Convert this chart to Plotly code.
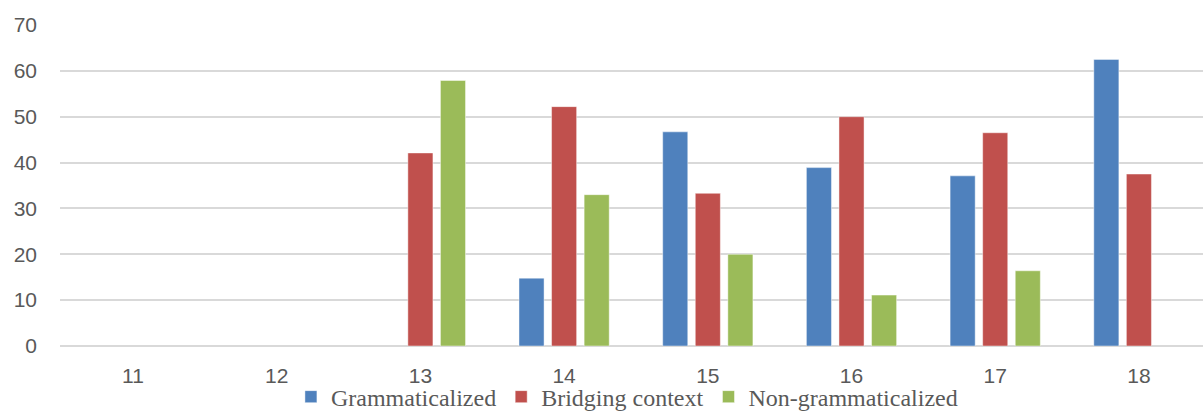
import plotly.graph_objects as go

# Categories along the x axis
categories = ["11", "12", "13", "14", "15", "16", "17", "18"]

# Share of each type per category (percent); None where there is no bar
grammaticalized = [None, None, None, 14.8, 46.7, 38.9, 37.1, 62.5]
bridging_context = [None, None, 42.1, 52.2, 33.3, 50.0, 46.5, 37.5]
non_grammaticalized = [None, None, 57.9, 33.0, 20.0, 11.1, 16.4, None]

series = [
    ("Grammaticalized", grammaticalized, "#4F81BD"),
    ("Bridging context", bridging_context, "#C0504D"),
    ("Non-grammaticalized", non_grammaticalized, "#9BBB59"),
]

fig = go.Figure()
for name, values, color in series:
    fig.add_trace(go.Bar(
        x=categories,
        y=values,
        name=name,
        marker=dict(color=color, line=dict(color="rgba(255,255,255,0.45)", width=1)),
    ))

tick_font = dict(family="Liberation Sans, Arial, sans-serif", size=21, color="#595959")

fig.update_layout(
    width=1203,
    height=413,
    margin=dict(l=60, r=0, t=25, b=67, autoexpand=False),
    paper_bgcolor="white",
    plot_bgcolor="white",
    barmode="group",
    bargap=0.32,
    bargroupgap=0.23,
    showlegend=True,
    legend=dict(
        orientation="h",
        x=0.496,
        xanchor="center",
        y=-0.159,
        yanchor="middle",
        font=dict(family="Liberation Serif, Times New Roman, serif", size=24, color="#595959"),
        bgcolor="rgba(0,0,0,0)",
    ),
    xaxis=dict(
        type="category",
        range=[-0.508, 7.446],
        showgrid=False,
        showline=False,
        zeroline=False,
        ticks="",
        tickfont=tick_font,
        ticklabelstandoff=15,
        automargin=False,
    ),
    yaxis=dict(
        range=[0, 70],
        dtick=10,
        showgrid=True,
        gridcolor="#D9D9D9",
        gridwidth=1.5,
        zeroline=True,
        zerolinecolor="#D9D9D9",
        zerolinewidth=1.5,
        showline=False,
        ticks="",
        tickfont=tick_font,
        ticklabelstandoff=22,
        automargin=False,
    ),
)

fig.write_html("out.html")
